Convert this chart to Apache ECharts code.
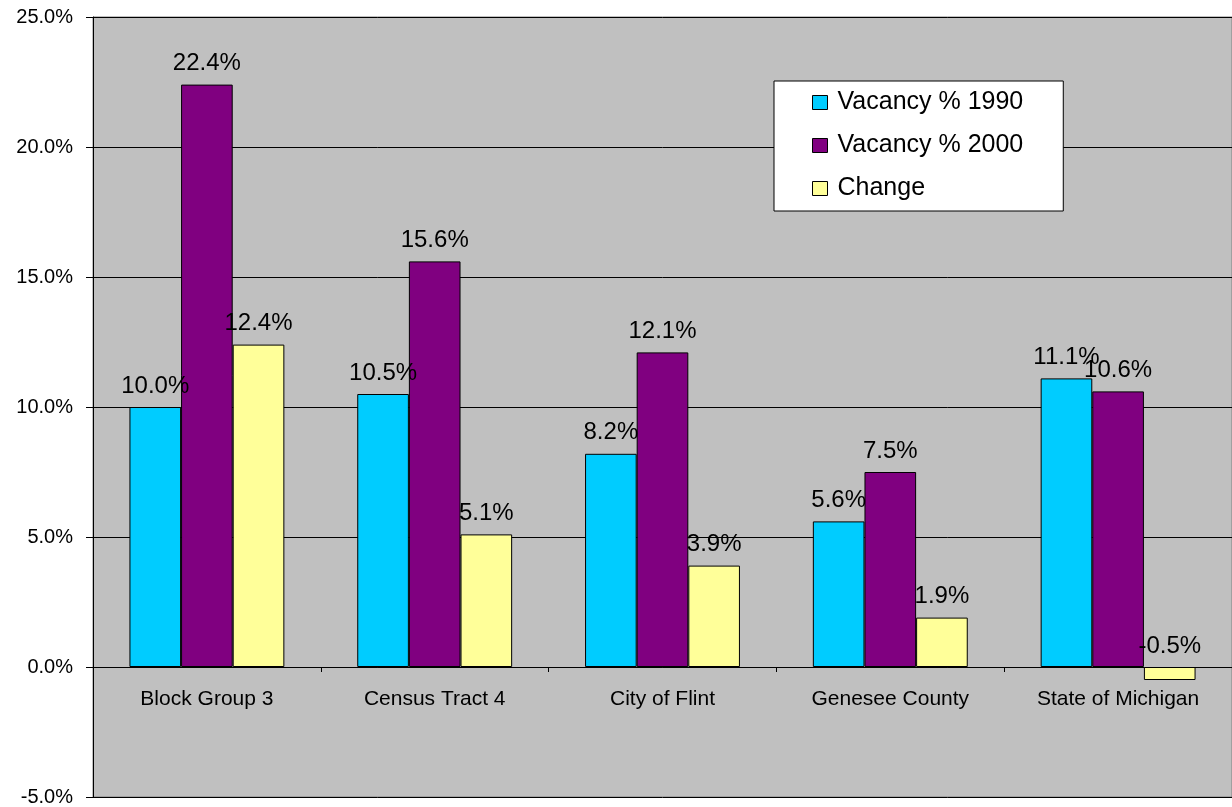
<!DOCTYPE html>
<html>
<head>
<meta charset="utf-8">
<title>Vacancy</title>
<script src="https://cdn.jsdelivr.net/npm/echarts@6/dist/echarts.min.js"></script>
<style>
  html, body { margin: 0; padding: 0; background: #fff; }
  #chart { width: 1232px; height: 807px; }
</style>
</head>
<body>
<div id="chart"></div>
<script>
const categories = ['Block Group 3', 'Census Tract 4', 'City of Flint', 'Genesee County', 'State of Michigan']
const vacancy1990 = [10.0, 10.5, 8.2, 5.6, 11.1]
const vacancy2000 = [22.4, 15.6, 12.1, 7.5, 10.6]
const change = [12.4, 5.1, 3.9, 1.9, -0.5]
const seriesNames = ['Vacancy % 1990', 'Vacancy % 2000', 'Change']

const font = '"Liberation Sans", Arial, sans-serif'
const pct = v => Number(v).toFixed(1) + '%'

const yMin = -5
const yMax = 25
const gridTop = 17
const gridBottom = 10
const chartHeight = 807
// category axis sits on the zero line, not at the bottom of the plot
const plotHeight = chartHeight - gridTop - gridBottom
const zeroOffset = -plotHeight * (0 - yMin) / (yMax - yMin)

// one bar series
const makeSeries = (name, data, color) => ({
  name,
  type: 'bar',
  data,
  barGap: '0%',
  barCategoryGap: '32%',
  itemStyle: { color, borderColor: '#000', borderWidth: 1 },
  label: {
    show: true,
    position: 'top',
    distance: 9,
    formatter: p => pct(p.value),
    color: '#000',
    fontFamily: font,
    fontSize: 24,
  },
})

const chart = echarts.init(document.getElementById('chart'))
chart.setOption({
  animation: false,
  backgroundColor: '#fff',
  grid: {
    left: 93,
    top: gridTop,
    right: 0,
    bottom: gridBottom,
    outerBoundsMode: 'none',
    containLabel: false,
    show: true,
    backgroundColor: '#C0C0C0',
    borderColor: '#808080',
    borderWidth: 1,
  },
  legend: {
    orient: 'vertical',
    left: 774,
    top: 81,
    backgroundColor: '#fff',
    borderColor: '#000',
    borderWidth: 1,
    padding: [9, 40, 10, 38],
    itemWidth: 15,
    itemHeight: 14,
    itemGap: 18,
    icon: 'rect',
    itemStyle: { borderColor: '#000', borderWidth: 1 },
    textStyle: { fontFamily: font, fontSize: 25, color: '#000', padding: [0, 0, 0, 5] },
    data: seriesNames,
  },
  xAxis: {
    type: 'category',
    data: categories,
    offset: zeroOffset,
    axisLine: { onZero: false, lineStyle: { color: '#000', width: 1 } },
    axisTick: { show: true, length: 5, lineStyle: { color: '#000' } },
    axisLabel: { color: '#000', fontFamily: font, fontSize: 21, margin: 22 },
  },
  yAxis: {
    type: 'value',
    min: yMin,
    max: yMax,
    interval: 5,
    axisLine: { show: true, lineStyle: { color: '#000', width: 1 } },
    axisTick: { show: true, length: 7, lineStyle: { color: '#000' } },
    axisLabel: { color: '#000', fontFamily: font, fontSize: 20, margin: 20, formatter: v => pct(v) },
    splitLine: { show: true, lineStyle: { color: '#000', width: 1 } },
  },
  series: [
    makeSeries(seriesNames[0], vacancy1990, '#00CCFF'),
    makeSeries(seriesNames[1], vacancy2000, '#800080'),
    makeSeries(seriesNames[2], change, '#FFFF99'),
  ],
})
</script>
</body>
</html>
